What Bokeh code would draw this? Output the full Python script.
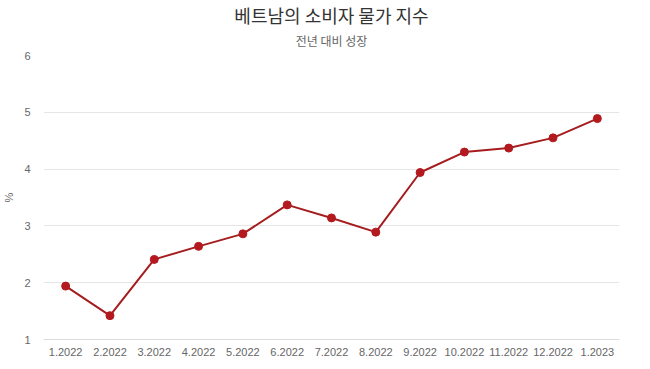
from bokeh.plotting import figure
from bokeh.models import ColumnDataSource, Title, FixedTicker
from bokeh.embed import file_html
from bokeh.resources import INLINE

months = ["1.2022", "2.2022", "3.2022", "4.2022", "5.2022", "6.2022", "7.2022",
          "8.2022", "9.2022", "10.2022", "11.2022", "12.2022", "1.2023"]
cpi = [1.94, 1.42, 2.41, 2.64, 2.86, 3.37, 3.14, 2.89, 3.94, 4.30, 4.37, 4.55, 4.89]
y_ticks = [1, 2, 3, 4, 5, 6]

title_text = "베트남의 소비자 물가 지수"
subtitle_text = "전년 대비 성장"
y_label = "%"

FONT = "Noto Sans CJK KR"

src = ColumnDataSource(dict(month=months, cpi=cpi))

p = figure(x_range=months, y_range=(1, 6), width=634, height=358,
           output_backend="svg", toolbar_location=None, title=None,
           min_border_left=3, min_border_right=15, min_border_top=4, min_border_bottom=0)

p.add_layout(Title(text=subtitle_text, align="center", text_font=FONT,
                   text_font_size="12px", text_color="#666666", text_font_style="normal",
                   standoff=13), "above")
p.add_layout(Title(text=title_text, align="center", text_font=FONT,
                   text_font_size="18px", text_color="#333333", text_font_style="normal",
                   standoff=-9), "above")
# thin spacer above the main title
p.add_layout(Title(text=" ", text_font_size="1px", text_color="white", standoff=1), "above")

p.line("month", "cpi", source=src, line_color="#a51d1f", line_width=2)
p.scatter("month", "cpi", source=src, size=8, fill_color="#b3191e", line_color="#b3191e")

p.outline_line_color = None
p.background_fill_color = "white"
p.border_fill_color = "white"

p.xgrid.grid_line_color = None
p.ygrid.grid_line_color = "#e6e6e6"
p.ygrid.grid_line_width = 1

p.yaxis.ticker = FixedTicker(ticks=y_ticks)
p.yaxis.axis_line_color = None
p.yaxis.major_tick_line_color = None
p.yaxis.minor_tick_line_color = None
p.yaxis.major_tick_out = 0
p.yaxis.major_tick_in = 0
p.yaxis.major_label_text_color = "#666666"
p.yaxis.major_label_text_font = "Liberation Sans"
p.yaxis.major_label_text_font_size = "11px"
p.yaxis.major_label_standoff = 13
p.yaxis.axis_label = y_label
p.yaxis.axis_label_text_color = "#666666"
p.yaxis.axis_label_text_font = "Liberation Sans"
p.yaxis.axis_label_text_font_size = "11px"
p.yaxis.axis_label_text_font_style = "normal"
p.yaxis.axis_label_standoff = 6

p.xaxis.axis_line_color = "#dcdcdc"
p.xaxis.major_tick_line_color = None
p.xaxis.minor_tick_line_color = None
p.xaxis.major_tick_out = 0
p.xaxis.major_tick_in = 0
p.xaxis.major_label_text_color = "#666666"
p.xaxis.major_label_text_font = "Liberation Sans"
p.xaxis.major_label_text_font_size = "11px"
p.xaxis.major_label_standoff = 8

open("out.html", "w").write(file_html(p, INLINE))
